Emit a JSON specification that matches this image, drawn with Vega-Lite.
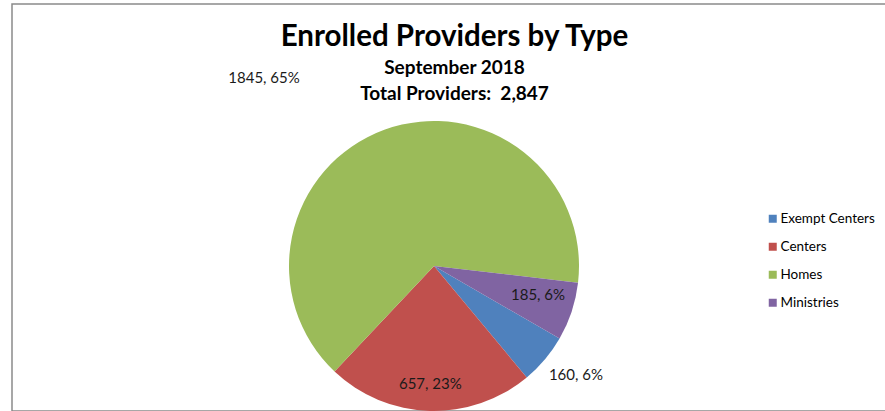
{
  "$schema": "https://vega.github.io/schema/vega-lite/v6.json",
  "width": 885,
  "height": 407,
  "padding": {"left": 11, "top": 3, "right": 0, "bottom": 0},
  "autosize": {"type": "pad"},
  "background": "white",
  "config": {
    "view": {"stroke": null},
    "text": {"font": "Lato", "fontSize": 15, "color": "#1a1a1a"}
  },
  "title": {
    "text": "Enrolled Providers by Type",
    "subtitle": ["September 2018", "Total Providers:\u00a0 2,847"],
    "anchor": "middle",
    "frame": "group",
    "offset": -102,
    "font": "Lato",
    "fontSize": 29.5,
    "fontWeight": "bold",
    "color": "black",
    "subtitleFont": "Lato",
    "subtitleFontSize": 19,
    "subtitleFontWeight": "bold",
    "subtitleColor": "black",
    "subtitlePadding": 7,
    "subtitleLineHeight": 26
  },
  "layer": [
    {
      "data": {"values": [{"frame": "border"}]},
      "mark": {"type": "rect", "fill": "transparent", "stroke": "#8a8a8a", "strokeWidth": 1.5},
      "encoding": {}
    },
    {
      "data": {
        "values": [
          {"type": "Exempt Centers", "providers": 160, "label": "160, 6%", "ord": 1},
          {"type": "Centers", "providers": 657, "label": "657, 23%", "ord": 2},
          {"type": "Homes", "providers": 1845, "label": "1845, 65%", "ord": 3},
          {"type": "Ministries", "providers": 185, "label": "185, 6%", "ord": 4}
        ]
      },
      "encoding": {
        "theta": {"field": "providers", "type": "quantitative", "stack": true, "scale": {"range": [2.0944, 8.3776]}},
        "order": {"field": "ord", "type": "quantitative"},
        "detail": {"field": "type", "type": "nominal"}
      },
      "layer": [
        {
          "mark": {"type": "arc", "radius": 145, "xOffset": -20.5, "yOffset": 58.5},
          "encoding": {
            "color": {
              "field": "type",
              "type": "nominal",
              "scale": {
                "domain": ["Exempt Centers", "Centers", "Homes", "Ministries"],
                "range": ["#4F81BD", "#C0504D", "#9BBB59", "#8064A2"]
              },
              "legend": {
                "title": null,
                "orient": "none",
                "legendX": 754,
                "legendY": 208,
                "symbolType": "square",
                "symbolSize": 64,
                "symbolStrokeWidth": 0,
                "labelFont": "Lato",
                "labelFontSize": 13.5,
                "labelColor": "black",
                "labelOffset": 1,
                "rowPadding": 13
              }
            }
          }
        },
        {
          "mark": {"type": "text", "radius": 253.5, "thetaOffset": -0.385, "xOffset": -20.5, "yOffset": 58.5},
          "encoding": {"text": {"condition": {"test": "datum.type === 'Homes'", "field": "label", "type": "nominal"}, "value": ""}}
        },
        {
          "mark": {"type": "text", "radius": 118, "xOffset": -20.5, "yOffset": 58.5},
          "encoding": {"text": {"condition": {"test": "datum.type === 'Centers'", "field": "label", "type": "nominal"}, "value": ""}}
        },
        {
          "mark": {"type": "text", "radius": 179, "thetaOffset": -0.045, "xOffset": -20.5, "yOffset": 58.5},
          "encoding": {"text": {"condition": {"test": "datum.type === 'Exempt Centers'", "field": "label", "type": "nominal"}, "value": ""}}
        },
        {
          "mark": {"type": "text", "radius": 108, "thetaOffset": -0.047, "xOffset": -20.5, "yOffset": 58.5},
          "encoding": {"text": {"condition": {"test": "datum.type === 'Ministries'", "field": "label", "type": "nominal"}, "value": ""}}
        }
      ]
    }
  ]
}
